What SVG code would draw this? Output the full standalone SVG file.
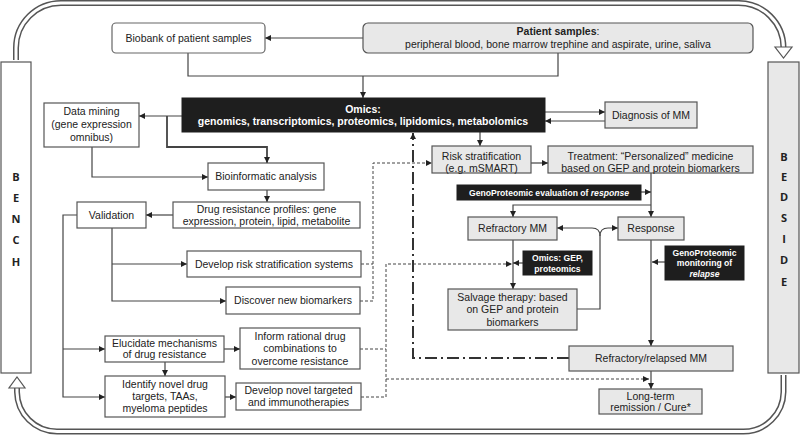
<svg xmlns="http://www.w3.org/2000/svg" width="800" height="435" viewBox="0 0 800 435">
<style>
.box{fill:#fff;stroke:#555;stroke-width:1.2}
.rbox{fill:#fff;stroke:#666;stroke-width:1.2}
.gbox{fill:#e8e8e8;stroke:#555;stroke-width:1.2}
.bbox{fill:#1e1e1e;stroke:#1e1e1e;stroke-width:1}
.t{font-family:"Liberation Sans",Arial,sans-serif;font-size:10.5px;fill:#222;text-anchor:middle}
.tw{font-family:"Liberation Sans",Arial,sans-serif;font-size:8.6px;font-weight:bold;fill:#fff;text-anchor:middle}
.om{font-family:"Liberation Sans",Arial,sans-serif;font-size:10.5px;font-weight:bold;fill:#fff;text-anchor:middle}
.side{font-family:"Open Sans","DejaVu Sans",sans-serif;font-size:11px;font-weight:bold;fill:#222;text-anchor:middle}
.c{fill:none;stroke:#444;stroke-width:1.2}
.d{fill:none;stroke:#444;stroke-width:1;stroke-dasharray:3 2}
.dd{fill:none;stroke:#333;stroke-width:2;stroke-dasharray:12 4 2 4}
.tube{fill:none;stroke:#555;stroke-width:6}
.tubein{fill:none;stroke:#fff;stroke-width:3}
.head{fill:#fff;stroke:#555;stroke-width:1.2}
</style>
<defs>
<marker id="a" viewBox="0 0 10 10" refX="10" refY="5" markerWidth="6" markerHeight="6" markerUnits="userSpaceOnUse" orient="auto">
<path d="M0,0 L10,5 L0,10 z" fill="#222"/>
</marker>
</defs>
<g id="frame">
<path class="tube" d="M16,60 V48 A45,45 0 0 1 61,3 H738 A45,45 0 0 1 783.5,48"/>
<path class="tubein" d="M16,60 V48 A45,45 0 0 1 61,3 H738 A45,45 0 0 1 783.5,48"/>
<polygon class="head" points="775,47 792,47 783.5,58"/>
<path class="tube" d="M783.5,375 V392 A40,40 0 0 1 743.5,431.5 H57 A40,40 0 0 1 17,392 V388"/>
<path class="tubein" d="M783.5,375 V392 A40,40 0 0 1 743.5,431.5 H57 A40,40 0 0 1 17,392 V388"/>
<polygon class="head" points="9,388 25,388 17,377"/>
</g>
<g id="bench">
<rect class="box" x="1" y="62" width="30" height="311"/>
<text class="side" x="16" y="181">B</text>
<text class="side" x="16" y="202">E</text>
<text class="side" x="16" y="223">N</text>
<text class="side" x="16" y="244">C</text>
<text class="side" x="16" y="266">H</text>
</g>
<g id="bedside">
<rect class="gbox" x="768" y="62" width="31" height="311"/>
<text class="side" x="784" y="161">B</text>
<text class="side" x="784" y="181">E</text>
<text class="side" x="784" y="201">D</text>
<text class="side" x="784" y="222">S</text>
<text class="side" x="784" y="243">I</text>
<text class="side" x="784" y="264">D</text>
<text class="side" x="784" y="286">E</text>
</g>
<g id="connectors">
<path class="c" d="M363,38 H265" marker-end="url(#a)"/>
<path class="c" d="M188,53 V76 H558 V53"/>
<path class="c" d="M363,76 V98" marker-end="url(#a)"/>
<path class="c" d="M182,116 H139" marker-end="url(#a)"/>
<path class="c" style="stroke-width:1.8" d="M167,116 V147 H267 V163" marker-end="url(#a)"/>
<path class="c" d="M92,147 V177 H208" marker-end="url(#a)"/>
<path class="c" d="M267,190 V202" marker-end="url(#a)"/>
<path class="c" d="M173,215 H146" marker-end="url(#a)"/>
<path class="c" d="M77,215 H63 V397 H105" marker-end="url(#a)"/>
<path class="c" d="M63,349 H105" marker-end="url(#a)"/>
<path class="c" d="M112,228 V301 H226" marker-end="url(#a)"/>
<path class="c" d="M112,264 H187" marker-end="url(#a)"/>
<path class="c" d="M224,349 H240" marker-end="url(#a)"/>
<path class="c" d="M165,362 V376" marker-end="url(#a)"/>
<path class="c" d="M225,397 H236" marker-end="url(#a)"/>
<path class="c" d="M545,112 H605" marker-end="url(#a)"/>
<path class="c" d="M605,121 H545" marker-end="url(#a)"/>
<path class="c" d="M480,132 V146" marker-end="url(#a)"/>
<path class="c" d="M531,163 H548" marker-end="url(#a)"/>
<path class="c" d="M651,173 V217" marker-end="url(#a)"/>
<path class="c" d="M651,205 H513 V217" marker-end="url(#a)"/>
<path class="c" d="M641,192 H651" marker-end="url(#a)"/>
<path class="c" d="M577,309 H600 V236 Q600,228 592,228 H557" marker-end="url(#a)"/>
<path class="c" d="M600,236 Q600,228 608,228 H618" marker-end="url(#a)"/>
<path class="c" d="M513,240 V289" marker-end="url(#a)"/>
<path class="c" d="M523,263 H513" marker-end="url(#a)"/>
<path class="c" d="M651,240 V346" marker-end="url(#a)"/>
<path class="c" d="M665,262 H652" marker-end="url(#a)"/>
<path class="c" d="M651,371 V389" marker-end="url(#a)"/>
<path class="d" d="M361,264 H373"/>
<path class="d" d="M360,301 H373 V163 H432" marker-end="url(#a)"/>
<path class="d" d="M360,349 H386"/>
<path class="d" d="M361,397 H386 V264 H512" marker-end="url(#a)"/>
<path class="d" d="M386,379 H649" marker-end="url(#a)"/>
<path class="dd" d="M569,358 H413 V133" marker-end="url(#a)"/>
</g>
<g id="biobank">
<rect class="rbox" x="112" y="23" width="153" height="30" rx="4"/>
<text class="t" x="188.5" y="42">Biobank of patient samples</text>
</g>
<g id="patient-samples">
<rect class="gbox" x="363" y="23" width="390" height="30" rx="5"/>
<text class="t" x="558" y="35"><tspan font-weight="bold">Patient samples</tspan>:</text>
<text class="t" x="558" y="48">peripheral blood, bone marrow trephine and aspirate, urine, saliva</text>
</g>
<g id="omics">
<rect class="bbox" x="182" y="98" width="363" height="34"/>
<text class="om" x="363" y="113">Omics:</text>
<text class="om" x="363" y="125">genomics, transcriptomics, proteomics, lipidomics, metabolomics</text>
</g>
<g id="data-mining">
<rect class="box" x="44" y="103" width="95" height="44"/>
<text class="t" x="91.5" y="115">Data mining</text>
<text class="t" x="91.5" y="128">(gene expression</text>
<text class="t" x="91.5" y="141">omnibus)</text>
</g>
<g id="diagnosis">
<rect class="gbox" x="605" y="102" width="92" height="26"/>
<text class="t" x="651" y="119">Diagnosis of MM</text>
</g>
<g id="bioinformatic">
<rect class="box" x="208" y="163" width="116" height="27"/>
<text class="t" x="266" y="180">Bioinformatic analysis</text>
</g>
<g id="risk-stratification">
<rect class="gbox" x="432" y="146" width="99" height="27"/>
<text class="t" x="481.5" y="160">Risk stratification</text>
<text class="t" x="481.5" y="172">(e.g. mSMART)</text>
</g>
<g id="treatment">
<rect class="gbox" x="548" y="146" width="205" height="27"/>
<text class="t" x="650.5" y="160">Treatment: “Personalized” medicine</text>
<text class="t" x="650.5" y="172">based on GEP and protein biomarkers</text>
</g>
<g id="geno-evaluation">
<rect class="bbox" x="457" y="185" width="184" height="15"/>
<text class="tw" x="549" y="196">GenoProteomic evaluation of <tspan font-style="italic">response</tspan></text>
</g>
<g id="drug-resistance">
<rect class="box" x="173" y="202" width="187" height="26"/>
<text class="t" x="266.5" y="212.5">Drug resistance profiles: gene</text>
<text class="t" x="266.5" y="225">expression, protein, lipid, metabolite</text>
</g>
<g id="validation">
<rect class="box" x="77" y="202" width="69" height="26"/>
<text class="t" x="111.5" y="219">Validation</text>
</g>
<g id="refractory">
<rect class="gbox" x="468" y="217" width="89" height="23"/>
<text class="t" x="512.5" y="232">Refractory MM</text>
</g>
<g id="response">
<rect class="gbox" x="618" y="217" width="66" height="23"/>
<text class="t" x="651" y="232">Response</text>
</g>
<g id="omics-gep">
<rect class="bbox" x="523" y="251" width="69" height="24"/>
<text class="tw" x="557.5" y="261">Omics: GEP,</text>
<text class="tw" x="557.5" y="271.5">proteomics</text>
</g>
<g id="geno-monitoring">
<rect class="bbox" x="665" y="246" width="79" height="34"/>
<text class="tw" x="704.5" y="255.5">GenoProteomic</text>
<text class="tw" x="704.5" y="266">monitoring of</text>
<text class="tw" x="704.5" y="276.5" font-style="italic">relapse</text>
</g>
<g id="develop-risk">
<rect class="box" x="187" y="251" width="174" height="26"/>
<text class="t" x="274" y="268">Develop risk stratification systems</text>
</g>
<g id="discover">
<rect class="box" x="226" y="287" width="134" height="27"/>
<text class="t" x="293" y="304">Discover new biomarkers</text>
</g>
<g id="salvage">
<rect class="gbox" x="448" y="289" width="129" height="41"/>
<text class="t" x="512.5" y="300.5">Salvage therapy: based</text>
<text class="t" x="512.5" y="313">on GEP and protein</text>
<text class="t" x="512.5" y="325.5">biomarkers</text>
</g>
<g id="elucidate">
<rect class="box" x="105" y="336" width="119" height="26"/>
<text class="t" x="164.5" y="346.5">Elucidate mechanisms</text>
<text class="t" x="164.5" y="358">of drug resistance</text>
</g>
<g id="inform">
<rect class="box" x="240" y="328" width="120" height="41"/>
<text class="t" x="300" y="339.5">Inform rational drug</text>
<text class="t" x="300" y="352">combinations to</text>
<text class="t" x="300" y="364.5">overcome resistance</text>
</g>
<g id="refractory-relapsed">
<rect class="gbox" x="569" y="346" width="164" height="25"/>
<text class="t" x="651" y="362">Refractory/relapsed MM</text>
</g>
<g id="identify">
<rect class="box" x="105" y="376" width="120" height="41"/>
<text class="t" x="165" y="387.5">Identify novel drug</text>
<text class="t" x="165" y="400">targets, TAAs,</text>
<text class="t" x="165" y="412">myeloma peptides</text>
</g>
<g id="develop-novel">
<rect class="box" x="236" y="383" width="125" height="27"/>
<text class="t" x="298.5" y="394">Develop novel targeted</text>
<text class="t" x="298.5" y="406">and immunotherapies</text>
</g>
<g id="long-term">
<rect class="gbox" x="599" y="389" width="103" height="25"/>
<text class="t" x="650.5" y="399.5">Long-term</text>
<text class="t" x="650.5" y="411">remission / Cure*</text>
</g>
</svg>
